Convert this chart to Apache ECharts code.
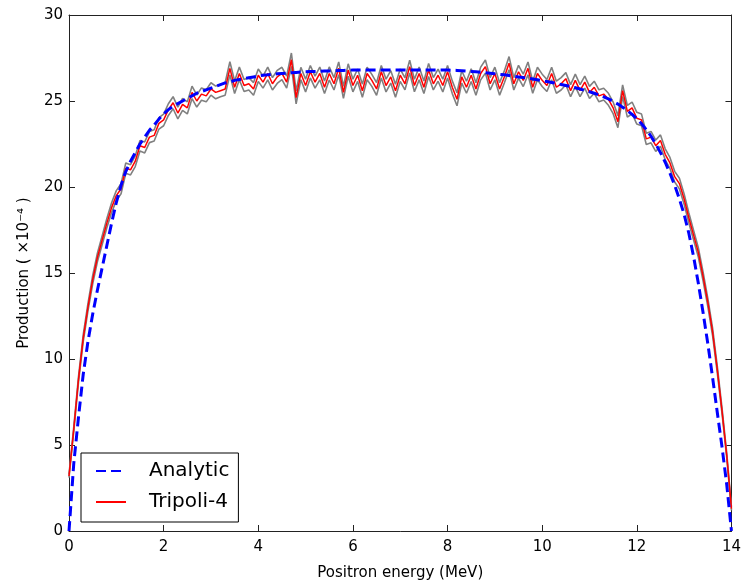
<!DOCTYPE html>
<html>
<head>
<meta charset="utf-8">
<title>Positron production</title>
<script src="https://cdn.jsdelivr.net/npm/echarts@6/dist/echarts.min.js"></script>
<style>
  html, body { margin: 0; padding: 0; background: #fff; }
  #chart { width: 744px; height: 586px; }
</style>
</head>
<body>
<div id="chart"></div>
<script>
// Energy bins: 0 to 14 MeV, 0.1 MeV apart
const binWidth = 0.1;

// Analytic production curve (×10⁻⁴) at each bin edge
const analytic = [
  0, 3.9, 6.6, 9.1, 11.0, 12.6, 14.0, 15.3, 16.6, 17.9,
  19.1, 20.1, 20.9, 21.5, 22.0, 22.5, 22.9, 23.3, 23.6, 23.95,
  24.25, 24.5, 24.7, 24.85, 25.0, 25.15, 25.3, 25.45, 25.55, 25.65,
  25.75, 25.85, 25.95, 26.05, 26.1, 26.2, 26.25, 26.3, 26.35, 26.4,
  26.45, 26.5, 26.52, 26.55, 26.58, 26.6, 26.62, 26.64, 26.66, 26.68,
  26.7, 26.71, 26.72, 26.73, 26.74, 26.75, 26.76, 26.77, 26.78, 26.79,
  26.8, 26.8, 26.8, 26.8, 26.8, 26.8, 26.8, 26.8, 26.8, 26.8,
  26.8, 26.8, 26.8, 26.8, 26.8, 26.8, 26.8, 26.8, 26.8, 26.8,
  26.8, 26.79, 26.78, 26.76, 26.74, 26.72, 26.7, 26.67, 26.64, 26.61,
  26.58, 26.55, 26.52, 26.48, 26.44, 26.4, 26.36, 26.32, 26.28, 26.23,
  26.18, 26.13, 26.08, 26.02, 25.96, 25.9, 25.84, 25.77, 25.7, 25.62,
  25.54, 25.45, 25.35, 25.24, 25.12, 24.98, 24.82, 24.64, 24.44, 24.22,
  23.97, 23.68, 23.34, 22.95, 22.5, 22.0, 21.44, 20.8, 20.1, 19.3,
  18.4, 17.3, 15.95, 14.4, 12.7, 10.9, 8.95, 6.9, 4.9, 2.7,
  0
];

// Tripoli-4 Monte Carlo tally (×10⁻⁴)
const tripoli = [
  3.2, 5.9, 8.8, 11.2, 13.0, 14.6, 15.9, 16.9, 17.9, 18.8,
  19.5, 19.9, 21.1, 21.0, 21.5, 22.4, 22.3, 22.9, 23.0, 23.7,
  23.9, 24.5, 24.9, 24.3, 24.8, 24.6, 25.5, 25.0, 25.4, 25.3,
  25.7, 25.5, 25.6, 25.7, 26.9, 25.8, 26.6, 25.9, 26.0, 25.7,
  26.5, 26.1, 26.6, 26.0, 26.4, 26.6, 26.1, 27.4, 25.2, 26.6,
  25.9, 26.7, 26.1, 26.6, 25.8, 26.6, 26.0, 26.9, 25.5, 26.8,
  25.9, 26.5, 25.6, 26.6, 26.2, 25.7, 26.7, 25.9, 26.4, 25.6,
  26.5, 26.0, 27.0, 25.9, 26.6, 25.8, 26.8, 26.0, 26.5, 25.9,
  26.7, 25.8, 25.1, 26.4, 25.8, 26.5, 25.7, 26.6, 27.0, 26.0,
  26.6, 25.7, 26.4, 27.2, 26.0, 26.7, 26.2, 26.9, 25.8, 26.6,
  26.2, 25.9, 26.6, 25.8, 26.0, 26.3, 25.6, 26.2, 25.6, 26.1,
  25.5, 25.8, 25.3, 25.4, 25.1, 24.6, 23.8, 25.6, 24.4, 24.6,
  24.0, 23.9, 22.8, 22.9, 22.4, 22.7, 21.9, 21.4, 20.6, 20.2,
  19.3, 18.2, 17.2, 16.2, 14.8, 13.3, 11.6, 9.4, 7.0, 4.4,
  1.3
];

// One-sigma statistical uncertainty of the tally
const tripoliErr = [
  0.10, 0.14, 0.17, 0.20, 0.22, 0.24, 0.25, 0.26, 0.27, 0.28,
  0.29, 0.29, 0.30, 0.30, 0.31, 0.31, 0.32, 0.32, 0.33, 0.33,
  0.34, 0.34, 0.35, 0.34, 0.35, 0.35, 0.36, 0.35, 0.36, 0.35,
  0.36, 0.37, 0.35, 0.36, 0.38, 0.36, 0.37, 0.35, 0.36, 0.37,
  0.36, 0.35, 0.37, 0.36, 0.38, 0.36, 0.35, 0.39, 0.37, 0.36,
  0.37, 0.36, 0.35, 0.37, 0.36, 0.38, 0.36, 0.37, 0.35, 0.36,
  0.37, 0.36, 0.38, 0.36, 0.35, 0.37, 0.36, 0.37, 0.36, 0.38,
  0.36, 0.35, 0.37, 0.36, 0.37, 0.36, 0.38, 0.36, 0.35, 0.37,
  0.36, 0.37, 0.38, 0.36, 0.35, 0.37, 0.36, 0.37, 0.38, 0.36,
  0.37, 0.36, 0.35, 0.38, 0.36, 0.37, 0.36, 0.37, 0.35, 0.36,
  0.36, 0.35, 0.36, 0.35, 0.36, 0.35, 0.35, 0.36, 0.35, 0.35,
  0.35, 0.35, 0.35, 0.34, 0.35, 0.34, 0.35, 0.34, 0.34, 0.34,
  0.34, 0.34, 0.33, 0.33, 0.33, 0.33, 0.32, 0.32, 0.31, 0.31,
  0.30, 0.29, 0.28, 0.27, 0.26, 0.24, 0.22, 0.20, 0.17, 0.14,
  0.10
];

const xTicks = { min: 0, max: 14, interval: 2 };
const yTicks = { min: 0, max: 30, interval: 5 };

const energy = analytic.map((_, i) => +(i * binWidth).toFixed(2));
const pairs = (vals) => vals.map((v, i) => [energy[i], v]);
const upper = tripoli.map((v, i) => +(v + tripoliErr[i]).toFixed(3));
const lower = tripoli.map((v, i) => +(v - tripoliErr[i]).toFixed(3));

const FONT = 'DejaVu Sans';
const axisLine = { show: true, onZero: false, lineStyle: { color: '#222', width: 1 } };
const tickIn = { show: true, inside: true, length: 6, lineStyle: { color: '#222', width: 1 } };

const chart = echarts.init(document.getElementById('chart'), null, { renderer: 'canvas' });
chart.setOption({
  animation: false,
  backgroundColor: '#fff',
  textStyle: { fontFamily: FONT },
  grid: { left: 69, right: 11, top: 15, bottom: 55 },
  xAxis: [
    {
      type: 'value', position: 'bottom', ...xTicks,
      axisLine, axisTick: tickIn, splitLine: { show: false },
      axisLabel: { fontSize: 15, color: '#000', margin: 9, fontFamily: FONT },
      name: 'Positron energy (MeV)', nameLocation: 'middle', nameGap: 35,
      nameTextStyle: { fontSize: 15, color: '#000', fontFamily: FONT }
    },
    {
      type: 'value', position: 'top', ...xTicks,
      axisLine, axisTick: tickIn, splitLine: { show: false },
      axisLabel: { show: false }
    }
  ],
  yAxis: [
    {
      type: 'value', position: 'left', ...yTicks,
      axisLine, axisTick: tickIn, splitLine: { show: false },
      axisLabel: { fontSize: 15, color: '#000', margin: 6, fontFamily: FONT },
      name: 'Production ( ×10⁻⁴ )', nameLocation: 'middle', nameGap: 37, nameRotate: 90,
      nameTextStyle: { fontSize: 15, color: '#000', fontFamily: FONT }
    },
    {
      type: 'value', position: 'right', ...yTicks,
      axisLine, axisTick: tickIn, splitLine: { show: false },
      axisLabel: { show: false }
    }
  ],
  legend: {
    orient: 'vertical', left: 81, top: 453,
    padding: [8, 9, 10, 14],
    itemWidth: 30, itemHeight: 14, itemGap: 11,
    borderColor: '#000', borderWidth: 1, borderRadius: 0,
    backgroundColor: '#fff',
    itemStyle: { opacity: 0 },
    data: ['Analytic', 'Tripoli-4'],
    textStyle: { fontSize: 20, color: '#000', fontFamily: FONT, padding: [0, 0, 0, 18] }
  },
  series: [
    {
      name: 'Tripoli-4 +σ', type: 'line', data: pairs(upper), symbol: 'none',
      lineStyle: { color: '#808080', width: 1.6 }, z: 2, silent: true
    },
    {
      name: 'Tripoli-4 −σ', type: 'line', data: pairs(lower), symbol: 'none',
      lineStyle: { color: '#808080', width: 1.6 }, z: 2, silent: true
    },
    {
      name: 'Tripoli-4', type: 'line', data: pairs(tripoli), symbol: 'none',
      itemStyle: { color: '#ff0000' },
      lineStyle: { color: '#ff0000', width: 1.5 }, z: 3
    },
    {
      name: 'Analytic', type: 'line', data: pairs(analytic), symbol: 'none', smooth: false,
      itemStyle: { color: '#0000ff' },
      lineStyle: { color: '#0000ff', width: 3, type: [10, 5] }, z: 4
    }
  ]
});
</script>
</body>
</html>
